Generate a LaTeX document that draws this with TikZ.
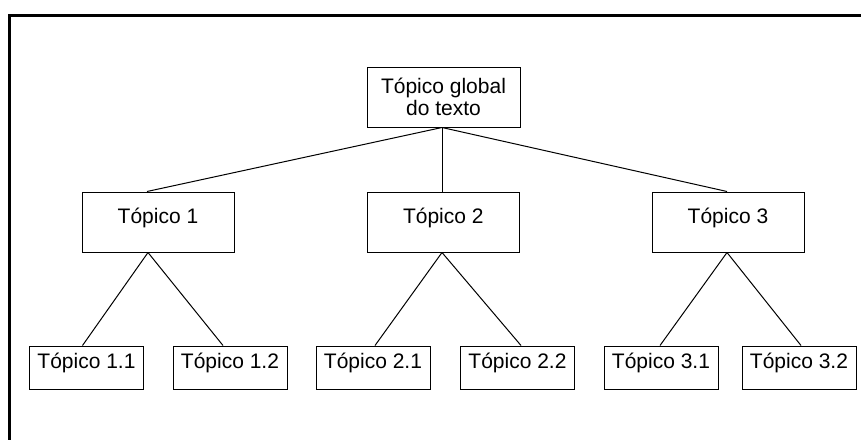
\documentclass[tikz,border=0pt]{standalone}
\usepackage{fontspec}
\setmainfont{Liberation Sans}
\begin{document}
\begin{tikzpicture}[x=1pt,y=-1pt,
  every node/.style={font=\fontsize{21}{21.5}\selectfont},
  topbox/.style={draw,line width=1pt,minimum width=153pt,minimum height=60pt,inner sep=0pt,align=center},
  midbox/.style={draw,line width=1pt,minimum width=152pt,inner sep=0pt,text height=31pt,text depth=29pt},
  leafbox/.style={draw,line width=1pt,minimum width=114pt,inner sep=0pt,text height=22pt,text depth=21pt},
  link/.style={line width=1pt}]
\useasboundingbox (0,0) rectangle (861,439);
\draw[line width=3pt] (9.5,440) -- (9.5,15.5) -- (862,15.5);
\node[topbox] (top) at (443.5,97) {Tópico global\\do texto};
\node[midbox] (t1) at (158,222) {Tópico 1};
\node[midbox] (t2) at (443.3,222) {Tópico 2};
\node[midbox] (t3) at (728,222) {Tópico 3};
\node[leafbox] (t11) at (86.5,367.5) {Tópico 1.1};
\node[leafbox] (t12) at (230,367.5) {Tópico 1.2};
\node[leafbox] (t21) at (373,367.5) {Tópico 2.1};
\node[leafbox] (t22) at (517.5,367.5) {Tópico 2.2};
\node[leafbox] (t31) at (661,367.5) {Tópico 3.1};
\node[leafbox] (t32) at (799,367.5) {Tópico 3.2};
\draw[link] ([xshift=-1.5]top.south) -- ([xshift=-11]t1.north);
\draw[link] ([xshift=-1.5]top.south) -- ([xshift=-1.3]t2.north);
\draw[link] ([xshift=-1.5]top.south) -- ([xshift=-1]t3.north);
\draw[link] ([xshift=-10]t1.south) -- ([xshift=-4]t11.north);
\draw[link] ([xshift=-10]t1.south) -- ([xshift=-7]t12.north);
\draw[link] ([xshift=-1.3]t2.south) -- ([xshift=2]t21.north);
\draw[link] ([xshift=-1.3]t2.south) -- ([xshift=3.5]t22.north);
\draw[link] ([xshift=-1]t3.south) -- ([xshift=-1]t31.north);
\draw[link] ([xshift=-1]t3.south) -- ([xshift=2]t32.north);
\end{tikzpicture}
\end{document}
